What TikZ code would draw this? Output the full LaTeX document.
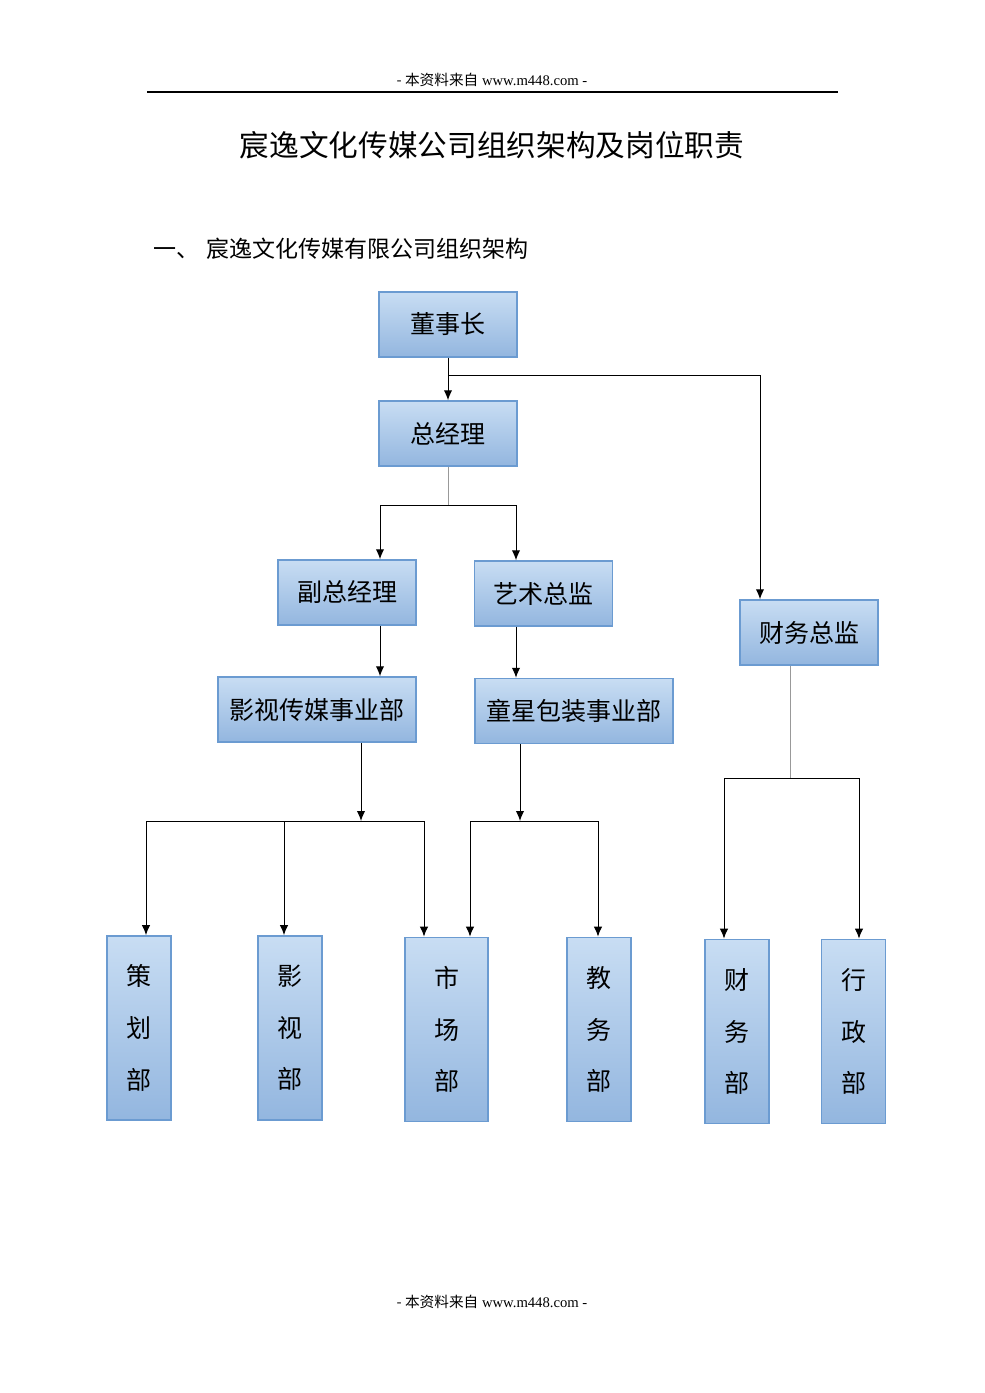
\documentclass[tikz,border=0pt]{standalone}
\usepackage{fontspec}
\setmainfont{Liberation Serif}
\newfontfamily\cjk{Noto Sans CJK SC}
\usetikzlibrary{arrows.meta, positioning}
\definecolor{boxtop}{HTML}{C8DDF3}
\definecolor{boxbot}{HTML}{93B6DF}
\definecolor{boxline}{HTML}{6B9BD1}
\tikzset{
	orgbox/.style={draw=boxline, line width=0.9pt, top color=boxtop, bottom color=boxbot, minimum height=39pt, minimum width=#1, inner sep=0pt, font=\cjk\fontsize{15}{18}\selectfont},
	deptbox/.style={draw=boxline, line width=0.9pt, top color=boxtop, bottom color=boxbot, minimum height=110.5pt, minimum width=#1, inner sep=0pt, align=center, font=\cjk\fontsize{15}{31}\selectfont},
	orgarr/.style={-{Latex[length=6pt, width=5pt]}, line width=0.6pt},
	stemline/.style={draw=black!40, line width=0.5pt},
}

\begin{document}
\begin{tikzpicture}[x=0.6pt, y=-0.6pt]
	\useasboundingbox (0,0) rectangle (985,1393);
	% page header and titles
	\node[font=\fontsize{8.8}{10}\selectfont] (hdr) at (492,80) {{\cjk - 本资料来自} www.m448.com -};
	\draw[line width=0.9pt] (147,92) -- (838,92);
	\node[font=\cjk\fontsize{17.8}{20}\selectfont] (title) at (492,145) {宸逸文化传媒公司组织架构及岗位职责};
	\node[anchor=west, font=\cjk\fontsize{13.8}{16}\selectfont] (sect) at (148,249) {一、\hspace{4pt}宸逸文化传媒有限公司组织架构};
	\node[font=\fontsize{8.8}{10}\selectfont] (ftr) at (492,1302) {{\cjk - 本资料来自} www.m448.com -};

	% management boxes
	\node[orgbox=82.8pt] (dsz) at (448,324.5) {董事长};
	\node[orgbox=82.8pt] (zjl) at (448,433.5) {总经理};
	\node[orgbox=82.8pt] (fzjl) at (347,592.5) {副总经理};
	\node[orgbox=82.8pt] (yszj) at (543.5,593.5) {艺术总监};
	\node[orgbox=82.8pt] (cwzj) at (809,632.5) {财务总监};
	\node[orgbox=118.8pt] (ysb) at (317,709.5) {影视传媒事业部};
	\node[orgbox=118.8pt] (txb) at (574,711) {童星包装事业部};

	% departments
	\node[deptbox=38.4pt] (chb) at (139,1028) {策\\划\\部};
	\node[deptbox=38.4pt] (yshb) at (290,1028) {影\\视\\部};
	\node[deptbox=49.8pt] (scb) at (446.5,1029.5) {市\\场\\部};
	\node[deptbox=38.4pt] (jwb) at (599,1029.5) {教\\务\\部};
	\node[deptbox=38.4pt] (cwb) at (737,1031.5) {财\\务\\部};
	\node[deptbox=38.4pt] (xzb) at (853.5,1031.5) {行\\政\\部};

	% bus points
	\coordinate (busA) at (760,375);
	\coordinate (busBm) at (448,505);
	\coordinate (busBl) at (380,505);
	\coordinate (busBr) at (516,505);
	\coordinate (busCl) at (146,821);
	\coordinate (busCm) at (284,821);
	\coordinate (busCr) at (424,821);
	\coordinate (dropC) at (361,821);
	\coordinate (busDl) at (470,821);
	\coordinate (busDr) at (598,821);
	\coordinate (dropD) at (520,821);
	\coordinate (busEl) at (724,778);
	\coordinate (busEr) at (859,778);
	\coordinate (dropE) at (790,778);

	% connectors
	\draw[orgarr] (dsz.south) -- (zjl.north);
	\draw[orgarr] (dsz.south |- busA) -- (busA) -- (busA |- cwzj.north);
	\draw[stemline] (zjl.south) -- (busBm);
	\draw[orgarr] (busBr) -- (busBl) -- (busBl |- fzjl.north);
	\draw[orgarr] (busBr) -- (busBr |- yszj.north);
	\draw[orgarr] (busBl |- fzjl.south) -- (busBl |- ysb.north);
	\draw[orgarr] (busBr |- yszj.south) -- (busBr |- txb.north);

	\draw[orgarr] (dropC |- ysb.south) -- (dropC);
	\draw[line width=0.6pt] (busCl) -- (busCr);
	\draw[orgarr] (busCl) -- (busCl |- chb.north);
	\draw[orgarr] (busCm) -- (busCm |- yshb.north);
	\draw[orgarr] (busCr) -- (busCr |- scb.north);

	\draw[orgarr] (dropD |- txb.south) -- (dropD);
	\draw[line width=0.6pt] (busDl) -- (busDr);
	\draw[orgarr] (busDl) -- (busDl |- scb.north);
	\draw[orgarr] (busDr) -- (busDr |- jwb.north);

	\draw[stemline] (dropE |- cwzj.south) -- (dropE);
	\draw[line width=0.6pt] (busEl) -- (busEr);
	\draw[orgarr] (busEl) -- (busEl |- cwb.north);
	\draw[orgarr] (busEr) -- (busEr |- xzb.north);
\end{tikzpicture}
\end{document}
